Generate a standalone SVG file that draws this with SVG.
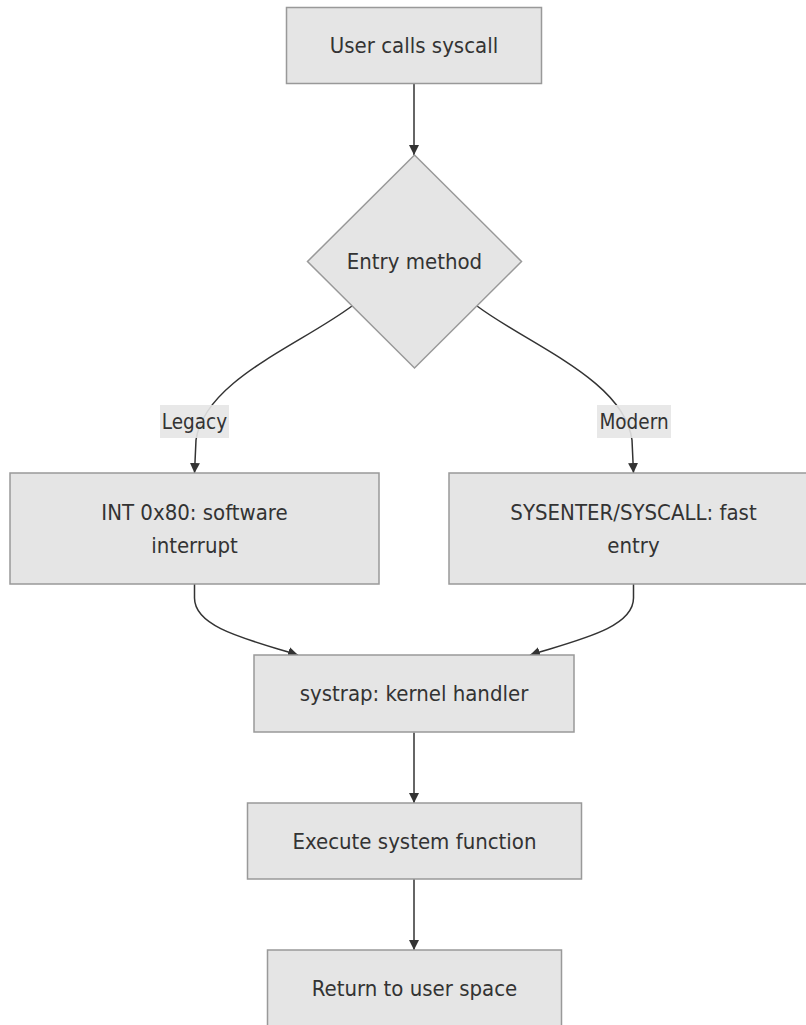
<svg xmlns="http://www.w3.org/2000/svg" width="806" height="1025" viewBox="0 0 806 1025">
<style>
.node rect, .node polygon { fill: #e5e5e5; stroke: #999; stroke-width: 1.5; }
.lbl { font-family: "DejaVu Sans Condensed", "DejaVu Sans", sans-serif; font-size: 22px; fill: #333; text-anchor: middle; dominant-baseline: central; }
.elbl { font-size: 20.5px; }
.edge { fill: none; stroke: #333; stroke-width: 1.5; }
.elbg { fill: #e5e5e5; opacity: 0.9; }
</style>
<defs>
<marker id="arrow" viewBox="0 0 10 10" refX="10" refY="5" markerWidth="10" markerHeight="10" markerUnits="userSpaceOnUse" orient="auto">
<path d="M0,0 L10,5 L0,10 z" fill="#333"/>
</marker>
</defs>
<rect width="806" height="1025" fill="#ffffff"/>
<g id="connectors">
<path class="edge" d="M414,83.5 L414,155" marker-end="url(#arrow)"/>
<path class="edge" d="M352,306 C 300,345 205,380 196,440 L194.5,473" marker-end="url(#arrow)"/>
<path class="edge" d="M477,306 C 529,345 624,380 632,440 L633.5,473" marker-end="url(#arrow)"/>
<path class="edge" d="M194.5,584 L194.5,598 C 194.5,628 250,640 298,655" marker-end="url(#arrow)"/>
<path class="edge" d="M633.5,584 L633.5,598 C 633.5,628 578,640 530,655" marker-end="url(#arrow)"/>
<path class="edge" d="M414,732.5 L414,803" marker-end="url(#arrow)"/>
<path class="edge" d="M414,879 L414,950" marker-end="url(#arrow)"/>
<g id="label-legacy">
<rect class="elbg" x="160" y="405" width="69" height="33"/>
<text class="lbl elbl" x="194.5" y="421.5">Legacy</text>
</g>
<g id="label-modern">
<rect class="elbg" x="597" y="405" width="74" height="33"/>
<text class="lbl elbl" x="634" y="421.5">Modern</text>
</g>
</g>
<g id="n1" class="node">
<rect x="286.5" y="7.5" width="255" height="76"/>
<text class="lbl" x="414" y="45.5">User calls syscall</text>
</g>
<g id="n2" class="node">
<polygon points="414.5,155 521.5,261.5 414.5,368 307.5,261.5"/>
<text class="lbl" x="414.5" y="261.5">Entry method</text>
</g>
<g id="n3" class="node">
<rect x="10" y="473" width="369" height="111"/>
<text class="lbl" x="194.5" y="512">INT 0x80: software</text>
<text class="lbl" x="194.5" y="545">interrupt</text>
</g>
<g id="n4" class="node">
<rect x="449" y="473" width="369" height="111"/>
<text class="lbl" x="633.5" y="512">SYSENTER/SYSCALL: fast</text>
<text class="lbl" x="633.5" y="545">entry</text>
</g>
<g id="n5" class="node">
<rect x="254" y="655" width="320" height="77"/>
<text class="lbl" x="414" y="693.5">systrap: kernel handler</text>
</g>
<g id="n6" class="node">
<rect x="247.5" y="803" width="334" height="76"/>
<text class="lbl" x="414.5" y="841">Execute system function</text>
</g>
<g id="n7" class="node">
<rect x="267.5" y="950" width="294" height="76"/>
<text class="lbl" x="414.5" y="988">Return to user space</text>
</g>
</svg>
